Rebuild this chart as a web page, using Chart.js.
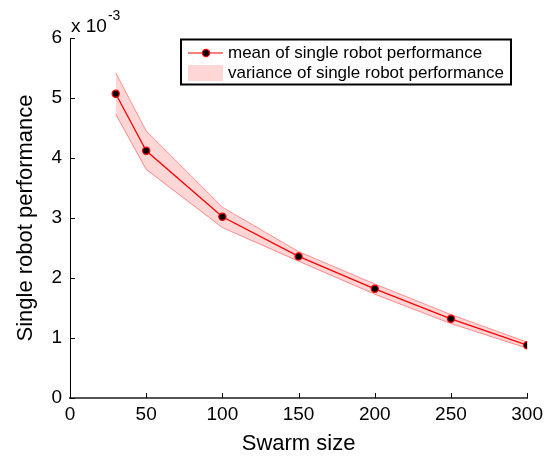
<!DOCTYPE html>
<html>
<head>
<meta charset="utf-8">
<script src="https://cdn.jsdelivr.net/npm/chart.js@4/dist/chart.umd.min.js"></script>
<style>
  html, body { margin: 0; padding: 0; background: #fff; }
  #wrap { width: 548px; height: 459px; position: relative; }
</style>
</head>
<body>
<div id="wrap"><canvas id="c" width="548" height="459"></canvas></div>
<script>
// ---- data ----
const swarmSizes = [30, 50, 100, 150, 200, 250, 300];
const meanPerf   = [5.07e-3, 4.12e-3, 3.02e-3, 2.36e-3, 1.82e-3, 1.32e-3, 0.88e-3];
const upperPerf  = [5.42e-3, 4.45e-3, 3.18e-3, 2.44e-3, 1.90e-3, 1.39e-3, 0.93e-3];
const lowerPerf  = [4.73e-3, 3.81e-3, 2.84e-3, 2.28e-3, 1.73e-3, 1.24e-3, 0.83e-3];
const xTicks = [0, 50, 100, 150, 200, 250, 300];
const yTicks = [0, 1e-3, 2e-3, 3e-3, 4e-3, 5e-3, 6e-3];
const yScaleFactor = 1e3;
const exponentLabel = ['x 10', '-3'];
const legendLabels = ['mean of single robot performance', 'variance of single robot performance'];
const xTitle = 'Swarm size';
const yTitle = 'Single robot performance';

const FONT = "'Liberation Sans', Arial, sans-serif";
const toPts = (ys) => swarmSizes.map((x, i) => ({ x: x, y: ys[i] }));

const inwardTicks = {
  id: 'inwardTicks',
  afterDatasetsDraw(chart) {
    const ctx = chart.ctx;
    const xs = chart.scales.x, ys = chart.scales.y;
    const a = chart.chartArea;
    ctx.save();
    ctx.strokeStyle = '#000';
    ctx.lineWidth = 1;
    xTicks.forEach(v => {
      const px = Math.round(xs.getPixelForValue(v)) + 0.5;
      ctx.beginPath(); ctx.moveTo(px, a.bottom); ctx.lineTo(px, a.bottom - 5); ctx.stroke();
    });
    yTicks.forEach(v => {
      const py = Math.round(ys.getPixelForValue(v)) + 0.5;
      ctx.beginPath(); ctx.moveTo(a.left, py); ctx.lineTo(a.left + 5, py); ctx.stroke();
    });
    ctx.restore();
  },
  afterDraw(chart) {
    const ctx = chart.ctx;
    const a = chart.chartArea;
    ctx.save();
    // exponent label
    ctx.fillStyle = '#000';
    ctx.textBaseline = 'alphabetic';
    ctx.textAlign = 'left';
    ctx.font = '19px ' + FONT;
    ctx.fillText(exponentLabel[0], a.left + 1, 32);
    const w = ctx.measureText(exponentLabel[0]).width;
    ctx.font = '14px ' + FONT;
    ctx.fillText(exponentLabel[1], a.left + 1 + w + 1, 20);

    // legend box
    const bx = 181, by = 39.5, bw = 330, bh = 45;
    ctx.fillStyle = '#fff';
    ctx.fillRect(bx, by, bw, bh);
    ctx.strokeStyle = '#000';
    ctx.lineWidth = 2;
    ctx.strokeRect(bx, by, bw, bh);
    // entry 1
    const y1 = 53, y2 = 73;
    ctx.strokeStyle = '#ff0000';
    ctx.lineWidth = 1.2;
    ctx.beginPath(); ctx.moveTo(188, y1); ctx.lineTo(223, y1); ctx.stroke();
    ctx.beginPath(); ctx.arc(206, y1, 3.6, 0, Math.PI * 2);
    ctx.fillStyle = '#000'; ctx.fill();
    ctx.strokeStyle = '#ff0000'; ctx.lineWidth = 1.2; ctx.stroke();
    // entry 2
    ctx.fillStyle = 'rgba(255,0,0,0.16)';
    ctx.fillRect(188, 65, 35, 16);
    ctx.fillStyle = '#000';
    ctx.font = '17px ' + FONT;
    ctx.textBaseline = 'middle';
    ctx.fillText(legendLabels[0], 228, y1);
    ctx.fillText(legendLabels[1], 228, y2);
    ctx.restore();
  }
};

new Chart(document.getElementById('c'), {
  type: 'scatter',
  data: {
    datasets: [
      {
        label: 'lower',
        data: toPts(lowerPerf),
        showLine: true,
        borderColor: 'rgba(255,120,120,0.8)',
        borderWidth: 1,
        pointRadius: 0,
        fill: false,
        order: 3
      },
      {
        label: legendLabels[1],
        data: toPts(upperPerf),
        showLine: true,
        borderColor: 'rgba(255,120,120,0.8)',
        borderWidth: 1,
        pointRadius: 0,
        backgroundColor: 'rgba(255,0,0,0.16)',
        fill: '-1',
        order: 2
      },
      {
        label: legendLabels[0],
        data: toPts(meanPerf),
        showLine: true,
        borderColor: '#ff0000',
        borderWidth: 1.3,
        pointRadius: 3.6,
        pointBackgroundColor: '#000',
        pointBorderColor: '#ff0000',
        pointBorderWidth: 1.2,
        fill: false,
        order: 1
      }
    ]
  },
  options: {
    responsive: false,
    animation: false,
    devicePixelRatio: 1,
    layout: { padding: { left: 0, right: 20, top: 38, bottom: 0 } },
    plugins: {
      legend: { display: false },
      tooltip: { enabled: false },
      filler: { propagate: false }
    },
    scales: {
      x: {
        type: 'linear',
        min: 0, max: 300,
        afterFit(s) { s.height = 61; },
        afterBuildTicks(s) { s.ticks = xTicks.map(v => ({ value: v })); },
        grid: { display: false, drawTicks: false },
        border: { display: true, color: '#555', width: 2 },
        ticks: {
          padding: 5,
          color: '#000',
          font: { family: FONT, size: 19 },
          maxRotation: 0,
          callback: (v) => String(v)
        },
        title: {
          display: true, text: xTitle, color: '#000',
          font: { family: FONT, size: 22 },
          padding: { top: 0, bottom: 2 }
        }
      },
      y: {
        type: 'linear',
        min: 0, max: 6e-3,
        afterFit(s) { s.width = 70; },
        afterBuildTicks(s) { s.ticks = yTicks.map(v => ({ value: v })); },
        grid: { display: false, drawTicks: false },
        border: { display: true, color: '#000', width: 1 },
        ticks: {
          padding: 8,
          color: '#000',
          font: { family: FONT, size: 19 },
          callback: (v) => String(Math.round(v * yScaleFactor))
        },
        title: {
          display: true, text: yTitle, color: '#000',
          font: { family: FONT, size: 22 },
          padding: { top: 13, bottom: 0 }
        }
      }
    }
  },
  plugins: [inwardTicks]
});
</script>
</body>
</html>
